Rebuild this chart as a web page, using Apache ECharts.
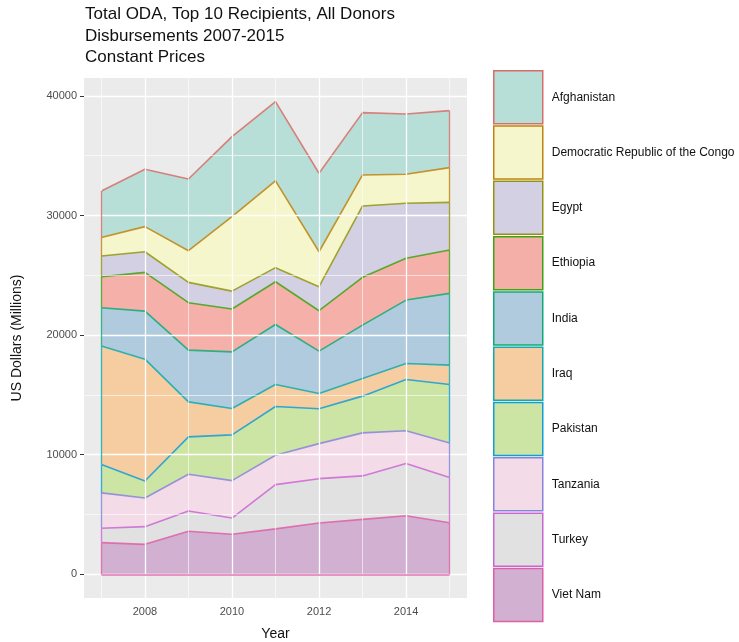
<!DOCTYPE html>
<html>
<head>
<meta charset="utf-8">
<script src="https://cdn.jsdelivr.net/npm/echarts@6/dist/echarts.min.js"></script>
<style>html,body{margin:0;padding:0;background:#fff}#c{width:739px;height:642px}</style>
</head>
<body>
<div id="c"></div>
<script>
// ---- data (US$ millions) ----
const years = [2007, 2008, 2009, 2010, 2011, 2012, 2013, 2014, 2015];
const vietNam     = [2650, 2510, 3600, 3350, 3800, 4300, 4600, 4900, 4320];
const turkey      = [1200, 1480, 1700, 1360, 3700, 3700, 3630, 4360, 3770];
const tanzania    = [2960, 2400, 3070, 3130, 2460, 2930, 3600, 2740, 2900];
const pakistan    = [2370, 1420, 3120, 3820, 4070, 2910, 3070, 4290, 4880];
const iraq        = [9920, 10180, 2930, 2200, 1840, 1280, 1470, 1340, 1620];
const india       = [3190, 4020, 4330, 4740, 5020, 3540, 4470, 5300, 6000];
const ethiopia    = [2590, 3240, 3960, 3580, 3570, 3380, 3990, 3490, 3620];
const egypt       = [1730, 1720, 1700, 1500, 1180, 2010, 5970, 4600, 3990];
const drc         = [1560, 2100, 2650, 6220, 7250, 2920, 2590, 2430, 2900];
const afghanistan = [3880, 4790, 5990, 6700, 6630, 6560, 5210, 5040, 4770];

const legendNames = ['Afghanistan', 'Democratic Republic of the Congo', 'Egypt', 'Ethiopia', 'India',
                     'Iraq', 'Pakistan', 'Tanzania', 'Turkey', 'Viet Nam'];
const xTicks = [2008, 2010, 2012, 2014];
const xMinor = [2007, 2009, 2011, 2013, 2015];
const yTicks = [0, 10000, 20000, 30000, 40000];
const yMinor = [5000, 15000, 25000, 35000];

// ---- styling ----
const fills = {
  'Afghanistan': '#8DD3C7', 'Democratic Republic of the Congo': '#FFFFB3', 'Egypt': '#BEBADA',
  'Ethiopia': '#FB8072', 'India': '#80B1D3', 'Iraq': '#FDB462', 'Pakistan': '#B3DE69',
  'Tanzania': '#FCCDE5', 'Turkey': '#D9D9D9', 'Viet Nam': '#BC80BD'
};
const lines = {
  'Afghanistan': '#F8766D', 'Democratic Republic of the Congo': '#D89000', 'Egypt': '#A3A500',
  'Ethiopia': '#39B600', 'India': '#00BF7D', 'Iraq': '#00BFC4', 'Pakistan': '#00B0F6',
  'Tanzania': '#9590FF', 'Turkey': '#E76BF3', 'Viet Nam': '#FF62BC'
};
function rgb(hex) { const n = parseInt(hex.slice(1), 16); return [n >> 16, (n >> 8) & 255, n & 255]; }
function rgba(hex, a) { const c = rgb(hex); return 'rgba(' + c[0] + ',' + c[1] + ',' + c[2] + ',' + a + ')'; }
function mix(hex, bg, a) {
  const c = rgb(hex), b = rgb(bg);
  return 'rgb(' + c.map((v, i) => Math.round(v * a + b[i] * (1 - a))).join(',') + ')';
}
// line colour: hue, slightly darkened / muted
function lineCol(hex) { return mix(hex, '#555555', 0.8); }

const stackOrder = [
  ['Viet Nam', vietNam], ['Turkey', turkey], ['Tanzania', tanzania], ['Pakistan', pakistan],
  ['Iraq', iraq], ['India', india], ['Ethiopia', ethiopia], ['Egypt', egypt],
  ['Democratic Republic of the Congo', drc], ['Afghanistan', afghanistan]
];
const FONT = "'Liberation Sans', Arial, Helvetica, sans-serif";

// value first so that ECharts stacks the value dimension (x is a value axis)
const series = stackOrder.map(([name, vals]) => ({
  name: name, type: 'line', stack: 'total', symbol: 'none', smooth: false, z: 3,
  data: years.map((y, i) => [vals[i], y]),
  encode: { x: 1, y: 0 },
  lineStyle: { color: lineCol(lines[name]), width: 1.6, opacity: 0.85 },
  itemStyle: { color: rgba(fills[name], 0.55) },
  areaStyle: { color: rgba(fills[name], 0.55), opacity: 1 },
  emphasis: { disabled: true }, animation: false
}));

const gridMarks = []
  .concat(yTicks.map(v => ({ yAxis: v, lineStyle: { color: '#FFFFFF', width: 1.3, type: 'solid' } })))
  .concat(yMinor.map(v => ({ yAxis: v, lineStyle: { color: '#FFFFFF', width: 0.6, type: 'solid' } })))
  .concat(xTicks.map(v => ({ xAxis: v, lineStyle: { color: '#FFFFFF', width: 1.3, type: 'solid' } })))
  .concat(xMinor.map(v => ({ xAxis: v, lineStyle: { color: '#FFFFFF', width: 0.6, type: 'solid' } })));

series.unshift({
  name: '__grid', type: 'line', data: [], z: 1, silent: true, animation: false,
  markLine: { silent: true, symbol: ['none', 'none'], label: { show: false }, animation: false, data: gridMarks }
});

// polygon side edges (ggplot outlines each area), built from the stacked data
const edgeMarks = [];
const first = 0, last = years.length - 1;
let cumL = 0, cumR = 0;
stackOrder.forEach(([name, vals]) => {
  const st = { color: lineCol(lines[name]), width: 1.3, opacity: 0.85, type: 'solid' };
  edgeMarks.push([{ coord: [years[first], cumL], lineStyle: st }, { coord: [years[first], cumL + vals[first]] }]);
  edgeMarks.push([{ coord: [years[last], cumR], lineStyle: st }, { coord: [years[last], cumR + vals[last]] }]);
  cumL += vals[first]; cumR += vals[last];
});
edgeMarks.push([{ coord: [years[first], 0], lineStyle: { color: lineCol(lines['Viet Nam']), width: 1.6, opacity: 0.85, type: 'solid' } },
                { coord: [years[last], 0] }]);
series.push({
  name: '__edges', type: 'line', data: [], z: 4, silent: true, animation: false,
  markLine: { silent: true, symbol: ['none', 'none'], label: { show: false }, animation: false, data: edgeMarks }
});

const option = {
  animation: false,
  textStyle: { fontFamily: FONT },
  title: {
    text: 'Total ODA, Top 10 Recipients, All Donors\nDisbursements 2007-2015\nConstant Prices',
    left: 85, top: 4, padding: 0,
    textStyle: { fontFamily: FONT, fontSize: 17, fontWeight: 'normal', color: '#111', lineHeight: 21.5 }
  },
  legend: {
    orient: 'vertical', left: 493, top: 70, padding: 0,
    itemWidth: 49, itemHeight: 53, itemGap: 0.8, icon: 'rect',
    data: legendNames.map(n => ({
      name: n, icon: 'rect',
      itemStyle: { color: mix(fills[n], '#EBEBEB', 0.55), borderColor: lineCol(lines[n]), borderWidth: 1.5, opacity: 1 }
    })),
    textStyle: { fontFamily: FONT, fontSize: 12, color: '#111', padding: [0, 0, 0, 4] },
    selectedMode: false
  },
  grid: { left: 84, top: 78, width: 383, height: 520, show: true, backgroundColor: '#EBEBEB', borderWidth: 0,
          containLabel: false, outerBoundsMode: 'none' },
  xAxis: {
    type: 'value', min: 2006.6, max: 2015.4,
    name: 'Year', nameLocation: 'middle', nameGap: 29,
    nameTextStyle: { fontFamily: FONT, fontSize: 14, color: '#111' },
    axisLine: { show: false },
    splitLine: { show: false },
    axisTick: { show: true, customValues: xTicks, length: 4, lineStyle: { color: '#333' } },
    axisLabel: { customValues: xTicks, color: '#4D4D4D', fontSize: 11, margin: 8, fontFamily: FONT,
                 formatter: v => String(v) }
  },
  yAxis: {
    type: 'value', min: -1976, max: 41496,
    name: 'US Dollars (Millions)', nameLocation: 'middle', nameGap: 60, nameRotate: 90,
    nameTextStyle: { fontFamily: FONT, fontSize: 14, color: '#111' },
    axisLine: { show: false },
    splitLine: { show: false },
    axisTick: { show: true, customValues: yTicks, length: 4, lineStyle: { color: '#333' } },
    axisLabel: { customValues: yTicks, color: '#4D4D4D', fontSize: 11, margin: 7, fontFamily: FONT,
                 formatter: v => String(v) }
  },
  series: series
};

const chart = echarts.init(document.getElementById('c'), null, { renderer: 'canvas' });
chart.setOption(option);
</script>
</body>
</html>
